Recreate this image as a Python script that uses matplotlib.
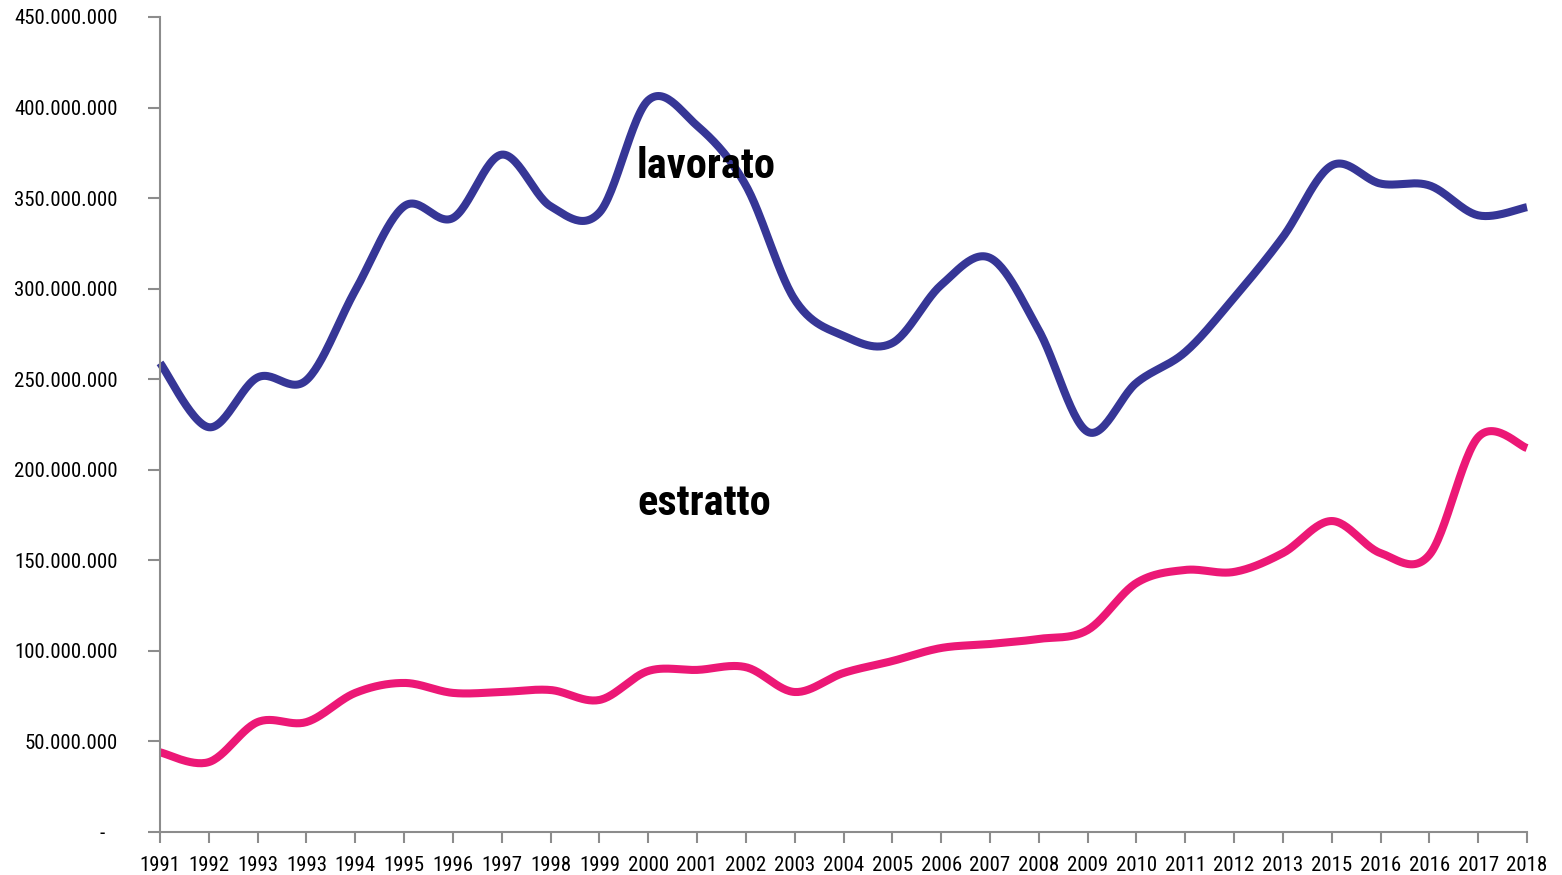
import matplotlib
matplotlib.use("Agg")
import matplotlib.pyplot as plt
import numpy as np

plt.rcParams["font.family"] = ["Roboto Condensed", "DejaVu Sans"]

# category labels exactly as shown on the x axis
years = ["1991", "1992", "1993", "1993", "1994", "1995", "1996", "1997", "1998",
         "1999", "2000", "2001", "2002", "2003", "2004", "2005", "2006", "2007",
         "2008", "2009", "2010", "2011", "2012", "2013", "2015", "2016", "2016",
         "2017", "2018"]

# values in millions
lavorato = [259, 223.5, 251, 249.5, 299, 345.5, 339, 374, 345.5,
            342, 404, 390, 357, 294, 274, 270, 302, 317,
            277, 221, 248, 265, 295, 328.5, 368, 358, 357,
            340.5, 345]
estratto = [44, 38.6, 60.7, 60.7, 76.8, 82.3, 76.8, 77.3, 78.4,
            72.9, 88.9, 89.5, 91, 77.3, 87.8, 94.4, 101.6, 103.8,
            106.6, 111.5, 137.5, 144.7, 143.6, 154, 171.7, 154, 153,
            218, 212]

y_ticks = [0, 50, 100, 150, 200, 250, 300, 350, 400, 450]


def smooth(x, y, steps=30):
    """Bezier smoothing through every point (spreadsheet style)."""
    x = np.asarray(x, float); y = np.asarray(y, float)
    px = np.concatenate([[x[0]], x, [x[-1]]])
    py = np.concatenate([[y[0]], y, [y[-1]]])
    xs, ys = [], []
    t = np.linspace(0, 1, steps)
    for i in range(len(x) - 1):
        p0 = np.array([px[i + 1], py[i + 1]])
        p3 = np.array([px[i + 2], py[i + 2]])
        c1 = p0 + (np.array([px[i + 2], py[i + 2]]) - np.array([px[i], py[i]])) / 6
        c2 = p3 - (np.array([px[i + 3], py[i + 3]]) - np.array([px[i + 1], py[i + 1]])) / 6
        b = ((1 - t) ** 3)[:, None] * p0 + (3 * (1 - t) ** 2 * t)[:, None] * c1 \
            + (3 * (1 - t) * t ** 2)[:, None] * c2 + (t ** 3)[:, None] * p3
        xs.append(b[:, 0]); ys.append(b[:, 1])
    return np.concatenate(xs), np.concatenate(ys)


fig = plt.figure(figsize=(15.62, 8.75), dpi=100)
ax = fig.add_axes([160 / 1562, 43 / 875, 1367 / 1562, 815 / 875])

x = np.arange(len(years))
sx, sy = smooth(x, lavorato)
ax.plot(sx, sy, color="#363696", lw=5.8, solid_capstyle="butt", clip_on=False)
sx, sy = smooth(x, estratto)
ax.plot(sx, sy, color="#EC1876", lw=5.8, solid_capstyle="butt", clip_on=False)

ax.set_xlim(0, len(years) - 1)
ax.set_ylim(0, 450)
ax.set_xticks(x)
ax.set_xticklabels(years, fontsize=15)
ax.set_yticks(y_ticks)
ax.set_yticklabels(["-"] + [f"{v}.000.000" for v in y_ticks[1:]], fontsize=15)

for side in ("top", "right"):
    ax.spines[side].set_visible(False)
for side in ("left", "bottom"):
    ax.spines[side].set_color("#8c8c8c")
    ax.spines[side].set_linewidth(1.5)
ax.tick_params(axis="both", colors="#8c8c8c", width=1.5, direction="out",
               labelcolor="black")
ax.tick_params(axis="y", length=8.6, pad=22)
ax.tick_params(axis="x", length=8, pad=9)
# the zero label "-" sits a bit further left
ax.yaxis.get_major_ticks()[0].set_pad(31)

ax.text(9.77, 361, "lavorato", fontsize=30.5, fontweight="bold", va="baseline", ha="left")
ax.text(9.77, 175, "estratto", fontsize=30.5, fontweight="bold", va="baseline", ha="left")

fig.savefig("out.png", dpi=100)
